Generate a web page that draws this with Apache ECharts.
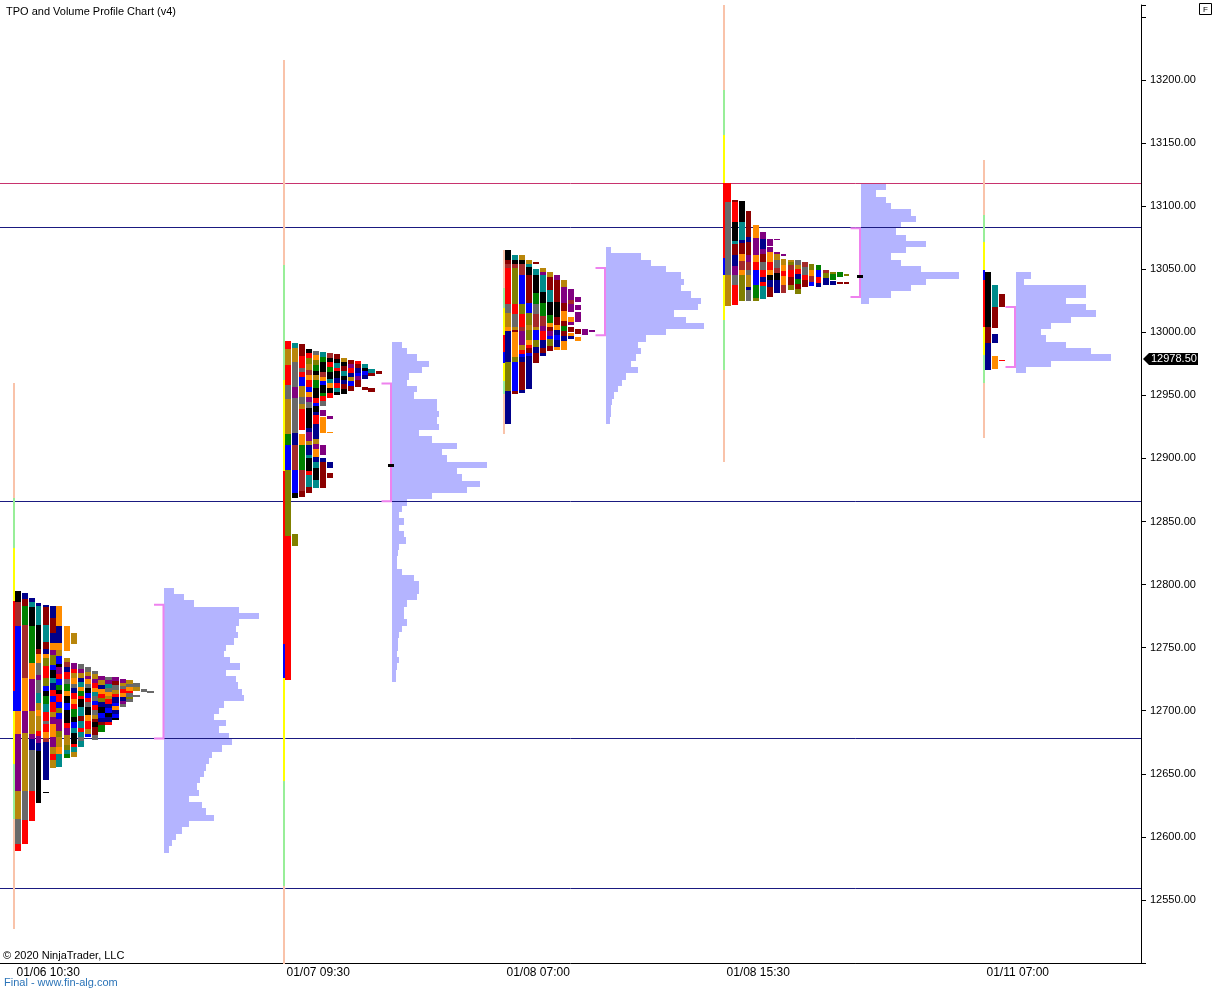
<!DOCTYPE html>
<html><head><meta charset="utf-8">
<script src="https://cdn.jsdelivr.net/npm/echarts@6/dist/echarts.min.js"></script>
<style>html,body{margin:0;padding:0;background:#fff}#c{width:1218px;height:990px}</style>
</head><body><div id="c"></div>
<script>
// ---------------- DATA ----------------
const sessionLabels = ['01/06 10:30', '01/07 09:30', '01/08 07:00', '01/08 15:30', '01/11 07:00'];
const sessionSlots = [0, 27, 49, 71, 97];

// TPO columns: [top price, runs "ColorCode length(points)"], '.' = gap
const tpoS1 = [
  [12795, "K9 N18.5 B67.5 O18.5 P45 D22.5 A20 R5"],
  [12793.7, "V5 M6 G15 N42 O26 P17.5 D46 A23 R18.5"],
  [12789, "V3 T3.5 K15 G30 O12.5 P25.5 D18 P4 V9 A32 R24"],
  [12785.7, "V3 T15 K18.5 M4.5 O6.5 A10 P4 A10 T8 D6 O4 D12 R4 P6 V6 K41"],
  [12784.1, "V1.5 M15 T13 M5.5 V4 O3 L6.5 R10 L6 B4 K4 G6.5 T6.5 R6.5 A3 R6 O5 N3 V30 .9.5 K1"],
  [12783.3, "V10 M12 V8 O5 P4 L8 B4 K6 T4 V6 R5 B4 R8 D4 P6 O10 P8 D6 R4 D7"],
  [12783.3, "O16 V14 O5 D5 B6 K3 P5 R4 B5 G4 K3 R6 B5 L4 B5 P9 L5 D8 O6 T10"],
  [12767.5, "O20 .6 D3 N4 V4 R5 A4 G6 O4 K5 B6 K10 R4 P6 D8 L4 T3 G3"],
  [12762, "D9 .15 P5 R3 D4 O5 A3 V4 R5 O4 R4 G6 K4 B5 T4 K8 R3 T4 D4"],
  [12737, "A4 P3 D4 V3 T4 O3 G4 R3 K6 T7 M4 T6 R3 T4 A3 T5"],
  [12734.9, "A4 D3 P3 O4 A3 K4 B4 R3 A4 K6 O5 R6 D4 B3"],
  [12731.8, "A3 D4 P3 R4 O3 T3 A4 B3 R4 A4 D3 M3 K4 M6 A4"],
  [12727.3, "P3 D4 V3 O4 R3 L3 V4 K5 B4 V3 M3 G5"],
  [12727, "A3 P3 T3 A3 O3 D3 R4 V3 B4 K3 V4 R2"],
  [12726.5, "P3 M3 A4 D3 R3 V4 B3 O3 V3 B3 K2"],
  [12725, "P3 D2 A3 R3 O3 V3 P3 A2"],
  [12724, "D3 A2 O3 R2 A3 L2 A2"],
  [12721.7, "A3 D3 .3 A2"],
  [12717, "A2.5"],
  [12715.8, "A1.5"]
];
const tpoS2 = [
  [12993, "R6 D13 R16 A10.5 D28 G9 B20 L52 R114"],
  [12991.3, "T4 D10.5 A20 P9 A28 V9 N20 B18.5 K4 .28 L9.5"],
  [12990.5, "M9 R10 A3 R4 B7 D9 A5 D4 R17 .3 O9 G20 N16 M5"],
  [12987, "K3 R4 L5 D5 N4 O4 R5 B4 O4 P4 A5 K16 V3 P7 D3 V8 T3 K10 R3 T10 M4"],
  [12985.2, "A3 O4 L4 G5 K3 D4 G6 K8 R4 B3 K4 V3 R7 V12 D4 P4 O6 V4 T5 K9 T7"],
  [12984.2, "T4 G4 K8 N4 O3 B3 K6 G3 R4 A4 .2.5 P5 .1 O12.5 .9.5 P8 .2.5 V3 M21"],
  [12983.6, "N4 K3 R4 G4 K6 T3 O4 K4 R4 .14.3 P2 .10.5 O1 .23 V4 .4 M4"],
  [12983, "M4 K3 T4 R3 K5 V4 R4 T3 K3"],
  [12979.4, "D3 K3 M4 T4 K3 V3 M4 K4"],
  [12977.8, "M3 P3 R4 V3 D3 B4 M4"],
  [12977, "R2 M3 V4 B3 P3 M5"],
  [12975, "T3 K3 B3 V3 .6 M3"],
  [12971, "T3 M3 .9 M3"],
  [12969, "M2"]
];
const tpoS3 = [
  [13065.1, "K8 M3 N3.5 R28 A7.5 D10.5 O3.5 V24.5 L23 V26"],
  [13061.1, "T4 K3 N3.5 L28 R8 A10.5 D2.5 M1.5 O20 L4 B22.5 M2.5"],
  [13061.1, "D4 K3 N9 B22.5 L8 R10 N3.5 P11.5 D4 R2.5 B2.5 V4 M22.5 V2"],
  [13057.7, "D3.5 T2.5 K6 M22.5 B8 L9 D4 L8 O4 R2.5 M4 B2.5 V26.5"],
  [13055.8, "M1.5 .4 T5 K14.5 G8 A8 N10.5 D2.5 B8 L5.5 V5 M8"],
  [13051.3, "D3.5 P2.5 T13 K9 G10.5 N8 P4 R6.5 V6.5 M4 V2.5"],
  [13047.9, "D4 M10.5 T9 K10.5 G6.5 O3 M3.5 P4 B2.5 L5.5 M4"],
  [13045.2, "P4 M17 K12 M6.5 O4 V4 B4 V5 O3"],
  [13041.3, "D5 P13 M6.5 O8 M4 G4 M4 V4 O6.5"],
  [13034.6, "P9 N3 P6.5 .4 O4 P2.5 .1 M4 .1 O2.5 V2.5"],
  [13028, "P4 .2.5 P4 .1.5 P8 .5 M4 .2.5 O3"],
  [13002.9, "P5"],
  [13001.5, "P1.5"]
];
const tpoS4 = [
  [13118, "R14.5 A58 D24.5"],
  [13104.7, "M1.5 R16 K14.5 T2.5 M9 V9 P6.5 A8 R16"],
  [13104.2, "K16.5 T14.5 V2.5 M9 O5.5 N6.5 O4 L21"],
  [13096.3, "M20.5 V4 M10.5 P5.5 N6.5 A4 D9 V2.5 A9"],
  [13085, "O10.5 P13 O5.5 R6.5 B12 G10.5 L2.5"],
  [13079.6, "P5.5 V8 P4 M6.5 A6.5 R5.5 V4 R2.5 T10.5"],
  [13074.3, "P5.5 .1 P4 O8 R6.5 O4 K4 V5.5 M8"],
  [13074.3, "P1.5 .9 P1.5 D5 A6.5 N4 K5.5 V10.5"],
  [13062.4, "P2 .2 D5 O5 R4 O6.5 N6.5"],
  [13057.7, "D2 L2.5 N4 R5.5 M6.5 L4"],
  [13057, "A4 D3 R4 V4 G4 M4 L4"],
  [13055.8, "N4 A6.5 R4 M5.5"],
  [13054.5, "L5 O5 N5 B3"],
  [13053.2, "G4 B5 R5 V3"],
  [13049.7, "N3 L4 V5"],
  [13047.9, "L1.5 G5 .1 V3"],
  [13047.9, "G4 .4 M1.5"],
  [13046.5, "L2 .5 M1.5"]
];
const tpoS5 = [
  [13047.9, "K43.5 M13 V21"],
  [13037.3, "T17 M17 .4.5 V7.5 .10 O10"],
  [13030.2, "M10.5 .41.5 R1"]
];

// session range line: [top price, runs]
const rangeLines = [
  [12959.5, "S90.5 E40 Y42 R71 B16 Y42 E44 S87"],
  [13216, "S163 E91 Y72 R137 B27 Y82 E83 S62"],
  [13065, "S29.5 E16 Y22 R13 B9 Y14 E10.5 S32"],
  [13259.5, "S67.5 E35.5 Y38 R59.5 B13.5 Y35.5 E40 S73"],
  [13136.5, "S43.5 E21.5 Y22 B8 R37 Y22.5 E22 S43.5"]
];

// volume profiles: top price, 5-point rows, relative volume (0-100)
const volTop = [12795, 12990, 13065, 13115, 13045];
const volS1 = [10,20,30,75,95,75,72,74,70,62,60,66,76,62,72,74,78,80,60,55,50,62,55,65,68,58,48,45,42,40,36,33,35,25,38,42,50,25,18,12,8,5];
const volS2 = [10,15,25,38,30,18,15,25,22,45,45,48,45,48,28,40,65,50,55,95,65,70,88,75,40,15,10,7,12,8,12,14,8,6,5,5,10,22,27,28,25,15,12,12,15,10,7,6,6,5,7,5,4,4];
const volS3 = [5,35,45,60,75,78,75,85,95,92,68,80,98,60,40,32,35,30,25,32,20,16,12,8,6,5,5,4];
const volS4 = [25,15,25,30,50,55,40,35,45,65,45,30,40,60,98,65,50,30,8];
const volS5 = [15,8,70,70,50,70,80,55,35,25,30,50,75,95,35,10];

const valueAreas = [[12784, 12678], [12959.5, 12866], [13051, 12997.6], [13082.5, 13028], [13020, 12972.5]];
const pocPrices = [null, 12895, null, 13045, null];
const levelPrices = [13118.3, 13083.3, 12866.5, 12678, 12559.5];
const levelColors = ['#C8336E', '#1A1A80', '#1A1A80', '#1A1A80', '#1A1A80'];
const lastPrice = 12978.5;

// ---------------- LAYOUT / STYLE ----------------
const palette = {K:'#000000',R:'#FF0000',B:'#0000FF',G:'#008000',M:'#8B0000',N:'#A52A2A',T:'#008B8B',V:'#00008B',O:'#FF8C00',D:'#B8860B',L:'#808000',P:'#800080',A:'#696969',S:'#F9C3AA',E:'#98EE98',Y:'#FFFF00'};
const codes = Object.keys(palette);
const profileOffset = [15.15, 10.9, 10.3, 13.8, 3.3];
const X_MIN = -1.25, X_MAX = 112.85;
const FONT = 'Liberation Sans, Arial, sans-serif';

function parseRuns(top, str) {
  const out = []; let p = top;
  str.trim().split(/\s+/).forEach(tok => {
    const c = tok[0]; const len = parseFloat(tok.slice(1));
    if (c !== '.') out.push([p, p - len, codes.indexOf(c)]);
    p -= len;
  });
  return out;
}

const tpoSessions = [tpoS1, tpoS2, tpoS3, tpoS4, tpoS5];
const volSessions = [volS1, volS2, volS3, volS4, volS5];

const tpoItems = [];
tpoSessions.forEach((cols, s) => {
  const x = sessionSlots[s];
  cols.forEach((col, k) => {
    parseRuns(col[0], col[1]).forEach(r => {
      tpoItems.push([x + 0.2 + 0.7 * k, x + 0.8 + 0.7 * k, r[0], r[1], r[2]]);
    });
  });
});
const rangeItems = [];
rangeLines.forEach((rl, s) => {
  const x = sessionSlots[s];
  parseRuns(rl[0], rl[1]).forEach(r => rangeItems.push([x, x + 0.2, r[0], r[1], r[2]]));
});
const volItems = [];
volSessions.forEach((vals, s) => {
  const x0 = sessionSlots[s] + profileOffset[s];
  vals.forEach((v, i) => {
    const p = volTop[s] - 5 * i;
    volItems.push([x0, x0 + v / 10, p + 2.5, p - 2.5]);
  });
});
const vaItems = valueAreas.map((va, s) => {
  const x0 = sessionSlots[s] + profileOffset[s];
  return [x0 - 1.0, x0 - 0.05, va[0], va[1]];
});
const pocItems = [];
pocPrices.forEach((p, s) => {
  if (p != null) { const x0 = sessionSlots[s] + profileOffset[s] - 0.05; pocItems.push([x0 - 0.3, x0 + 0.3, p]); }
});

function rectRender(colorFn) {
  return function (params, api) {
    const p0 = api.coord([api.value(0), api.value(2)]);
    const p1 = api.coord([api.value(1), api.value(3)]);
    const x = Math.round(p0[0]), w = Math.max(1, Math.round(p1[0]) - x);
    const y = Math.round(p0[1]), h = Math.max(1, Math.round(p1[1]) - y);
    return { type: 'rect', shape: { x: x, y: y, width: w, height: h }, style: { fill: colorFn(api) } };
  };
}

const chart = echarts.init(document.getElementById('c'), null, { renderer: 'canvas' });
chart.setOption({
  animation: false,
  backgroundColor: '#fff',
  grid: { left: 0, right: 77, top: 5, bottom: 27, containLabel: false },
  xAxis: {
    type: 'value', min: X_MIN, max: X_MAX,
    axisLine: { show: true, onZero: false, lineStyle: { color: '#000', width: 1 } },
    axisTick: { show: false },
    splitLine: { show: false },
    axisLabel: {
      customValues: sessionSlots,
      formatter: v => { const i = sessionSlots.indexOf(v); return i >= 0 ? sessionLabels[i] : ''; },
      align: 'left', padding: [0, 0, 0, 4], margin: 4,
      fontSize: 12, color: '#000', fontFamily: FONT
    }
  },
  yAxis: {
    type: 'value', position: 'right', min: 12500, max: 13259.5, interval: 50,
    axisLine: { show: true, onZero: false, lineStyle: { color: '#000', width: 1 } },
    axisTick: { show: true, length: 5, lineStyle: { color: '#000' } },
    splitLine: { show: false },
    axisLabel: {
      formatter: v => (v <= 12500 || v >= 13250) ? '' : v.toFixed(2),
      fontSize: 11, color: '#000', margin: 9, fontFamily: FONT
    }
  },
  graphic: [
    { type: 'text', left: 6, top: 6, style: { text: 'TPO and Volume Profile Chart (v4)', font: '11px ' + FONT, fill: '#000' } },
    { type: 'text', left: 3, top: 950, style: { text: '© 2020 NinjaTrader, LLC', font: '11px ' + FONT, fill: '#000' } },
    { type: 'text', left: 4, top: 977, style: { text: 'Final - www.fin-alg.com', font: '11px ' + FONT, fill: '#2B74B8' } },
    { type: 'group', left: 1199, top: 3, children: [
      { type: 'rect', shape: { x: 0, y: 0, width: 12, height: 11 }, style: { fill: '#fff', stroke: '#000', lineWidth: 1 } },
      { type: 'text', x: 6, y: 6, style: { text: 'F', font: '8px ' + FONT, fill: '#000', align: 'center', verticalAlign: 'middle' } }
    ] }
  ],
  series: [
    {
      type: 'custom', name: 'volume', data: volItems, silent: true,
      encode: { x: [0, 1], y: [2, 3] },
      renderItem: rectRender(() => '#B4B4FF')
    },
    {
      type: 'custom', name: 'levels', silent: true,
      data: levelPrices.map((p, i) => [X_MIN, p, i]),
      encode: { x: 0, y: 1 },
      renderItem: function (params, api) {
        const cs = params.coordSys;
        const y = Math.round(api.coord([0, api.value(1)])[1]) + 0.5;
        return { type: 'line', shape: { x1: cs.x, y1: y, x2: cs.x + cs.width, y2: y }, style: { stroke: levelColors[api.value(2)], lineWidth: 1 } };
      }
    },
    {
      type: 'custom', name: 'range', data: rangeItems, silent: true,
      encode: { x: [0, 1], y: [2, 3] },
      renderItem: rectRender(api => palette[codes[api.value(4)]])
    },
    {
      type: 'custom', name: 'tpo', data: tpoItems, silent: true,
      encode: { x: [0, 1], y: [2, 3] },
      renderItem: rectRender(api => palette[codes[api.value(4)]])
    },
    {
      type: 'custom', name: 'va', data: vaItems, silent: true,
      encode: { x: [0, 1], y: [2, 3] },
      renderItem: function (params, api) {
        const a = api.coord([api.value(0), api.value(2)]);
        const b = api.coord([api.value(1), api.value(3)]);
        return { type: 'polyline', shape: { points: [[a[0], a[1]], [b[0], a[1]], [b[0], b[1]], [a[0], b[1]]] }, style: { stroke: '#EE82EE', lineWidth: 2, fill: null } };
      }
    },
    {
      type: 'custom', name: 'poc', data: pocItems, silent: true,
      encode: { x: [0, 1], y: 2 },
      renderItem: function (params, api) {
        const a = api.coord([api.value(0), api.value(2)]);
        const b = api.coord([api.value(1), api.value(2)]);
        return { type: 'rect', shape: { x: Math.round(a[0]), y: Math.round(a[1]) - 1, width: Math.round(b[0] - a[0]), height: 3 }, style: { fill: '#000' } };
      }
    },
    {
      type: 'custom', name: 'last', data: [[X_MAX, lastPrice]], silent: true, clip: false,
      encode: { x: 0, y: 1 },
      renderItem: function (params, api) {
        const p = api.coord([api.value(0), api.value(1)]);
        const x = p[0] + 2, y = Math.round(p[1]);
        return { type: 'group', children: [
          { type: 'polygon', shape: { points: [[x, y], [x + 6, y - 6], [x + 55, y - 6], [x + 55, y + 6], [x + 6, y + 6]] }, style: { fill: '#000' } },
          { type: 'text', style: { x: x + 8, y: y, text: lastPrice.toFixed(2), font: '11px ' + FONT, fill: '#fff', verticalAlign: 'middle' } }
        ] };
      }
    }
  ]
});
</script>
</body></html>
